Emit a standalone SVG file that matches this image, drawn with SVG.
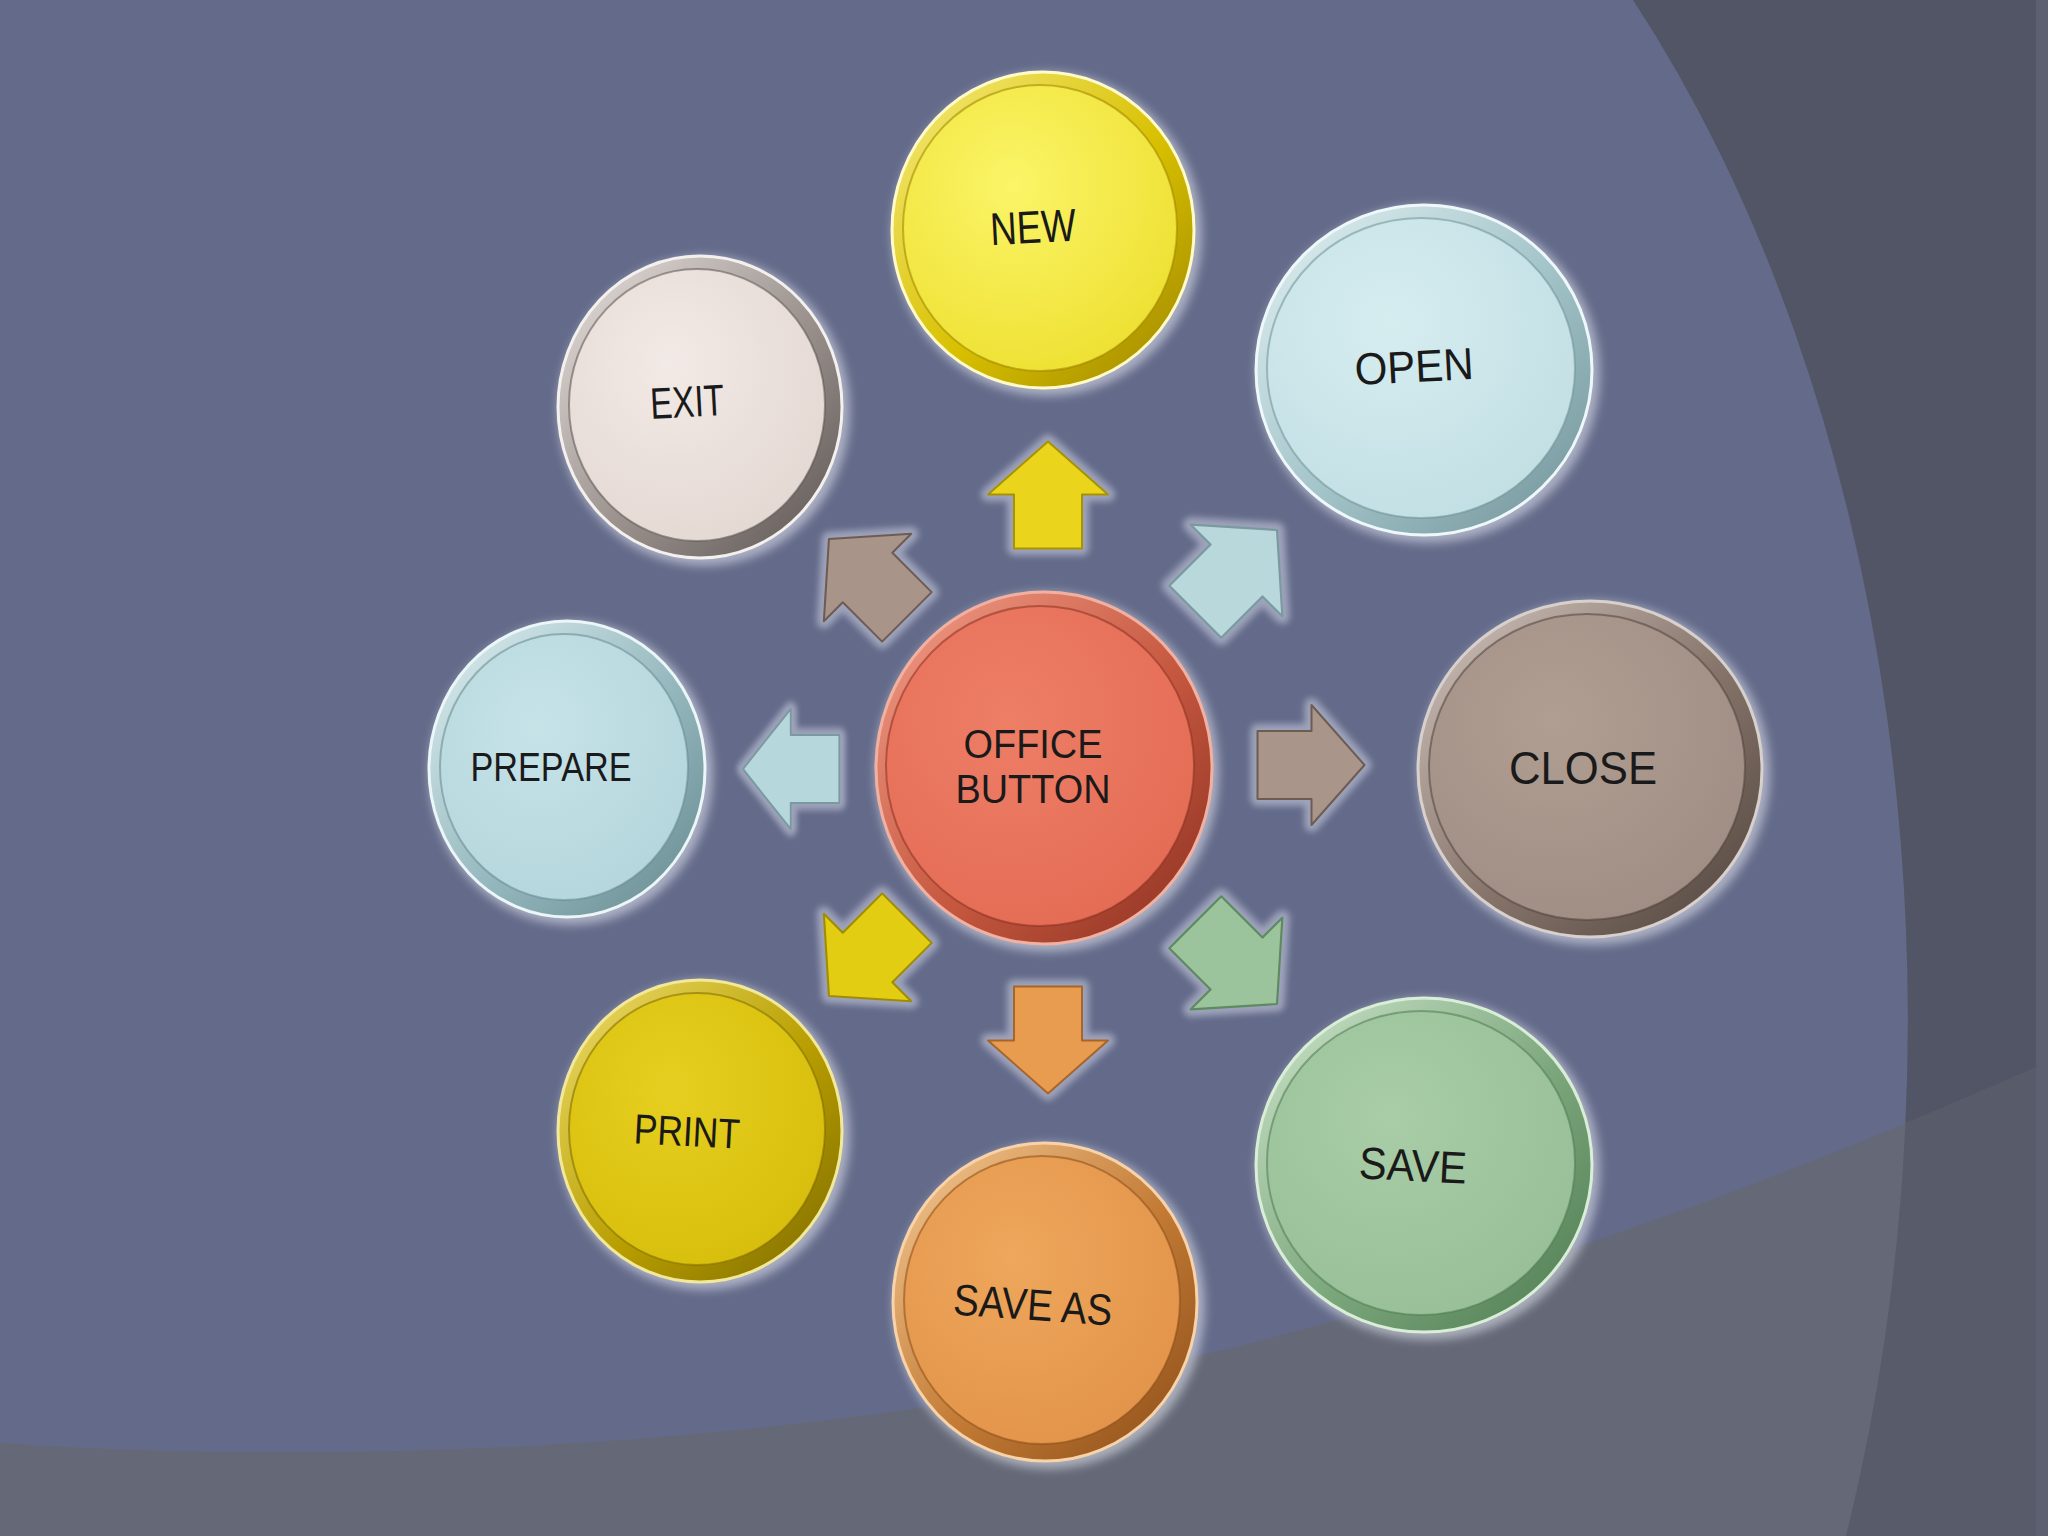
<svg xmlns="http://www.w3.org/2000/svg" width="2048" height="1536" viewBox="0 0 2048 1536">
<style>
.lbl{font-family:"Liberation Sans",Arial,sans-serif;fill:#1a1a1a;text-anchor:middle}
.halo{fill:#e4e7f2;opacity:.55}
.face{stroke-width:2;stroke-opacity:.55}
.ahalo{fill:none;stroke:#cdd1e2;stroke-width:14;stroke-linejoin:round;opacity:.55}
.arr{stroke-width:2;stroke-linejoin:round}
</style>
<defs>
<filter id="blur" x="-20%" y="-20%" width="140%" height="140%"><feGaussianBlur stdDeviation="5"/></filter>
<filter id="blurS" x="-30%" y="-30%" width="160%" height="160%"><feGaussianBlur stdDeviation="3"/></filter>
<clipPath id="bandClip"><path d="M0,1443 C400,1470 900,1440 1300,1330 C1600,1250 1850,1150 2048,1062 L2048,1536 L0,1536 Z"/></clipPath>
<path id="arrow" d="M-52,-34 H2 V-60 L55,0 L2,60 V34 H-52 Z"/>
<linearGradient id="rimNew" x1="0" y1="0" x2="1" y2="1"><stop offset="0" stop-color="#f6ec80"/><stop offset=".55" stop-color="#d8c000"/><stop offset="1" stop-color="#9c8400"/></linearGradient>
<radialGradient id="faceNew" cx=".4" cy=".35" r=".7"><stop offset="0" stop-color="#fbf568"/><stop offset="1" stop-color="#eee032"/></radialGradient>
<linearGradient id="rimOpen" x1="0" y1="0" x2="1" y2="1"><stop offset="0" stop-color="#e4f2f4"/><stop offset=".55" stop-color="#a0c2c7"/><stop offset="1" stop-color="#6f9197"/></linearGradient>
<radialGradient id="faceOpen" cx=".4" cy=".35" r=".7"><stop offset="0" stop-color="#d6edf0"/><stop offset="1" stop-color="#c2dfe4"/></radialGradient>
<linearGradient id="rimClose" x1="0" y1="0" x2="1" y2="1"><stop offset="0" stop-color="#d2c6bf"/><stop offset=".55" stop-color="#857369"/><stop offset="1" stop-color="#4f433c"/></linearGradient>
<radialGradient id="faceClose" cx=".4" cy=".35" r=".7"><stop offset="0" stop-color="#b09e93"/><stop offset="1" stop-color="#a08e84"/></radialGradient>
<linearGradient id="rimSave" x1="0" y1="0" x2="1" y2="1"><stop offset="0" stop-color="#cfe6cd"/><stop offset=".55" stop-color="#7ca77c"/><stop offset="1" stop-color="#4e7a50"/></linearGradient>
<radialGradient id="faceSave" cx=".4" cy=".35" r=".7"><stop offset="0" stop-color="#a8cda7"/><stop offset="1" stop-color="#98bf98"/></radialGradient>
<linearGradient id="rimSaveAs" x1="0" y1="0" x2="1" y2="1"><stop offset="0" stop-color="#f6cc98"/><stop offset=".55" stop-color="#c27a34"/><stop offset="1" stop-color="#8a4c18"/></linearGradient>
<radialGradient id="faceSaveAs" cx=".4" cy=".35" r=".7"><stop offset="0" stop-color="#eea75c"/><stop offset="1" stop-color="#e2944a"/></radialGradient>
<linearGradient id="rimPrint" x1="0" y1="0" x2="1" y2="1"><stop offset="0" stop-color="#f0e070"/><stop offset=".55" stop-color="#b89e00"/><stop offset="1" stop-color="#7c6a00"/></linearGradient>
<radialGradient id="facePrint" cx=".4" cy=".35" r=".7"><stop offset="0" stop-color="#e6cf20"/><stop offset="1" stop-color="#d8be0c"/></radialGradient>
<linearGradient id="rimPrep" x1="0" y1="0" x2="1" y2="1"><stop offset="0" stop-color="#e0f0f2"/><stop offset=".55" stop-color="#94b8be"/><stop offset="1" stop-color="#66888e"/></linearGradient>
<radialGradient id="facePrep" cx=".4" cy=".35" r=".7"><stop offset="0" stop-color="#c6e3e8"/><stop offset="1" stop-color="#b4d6dc"/></radialGradient>
<linearGradient id="rimExit" x1="0" y1="0" x2="1" y2="1"><stop offset="0" stop-color="#e8e2df"/><stop offset=".55" stop-color="#9a918d"/><stop offset="1" stop-color="#5a5350"/></linearGradient>
<radialGradient id="faceExit" cx=".4" cy=".35" r=".7"><stop offset="0" stop-color="#f2eae6"/><stop offset="1" stop-color="#e4d8d2"/></radialGradient>
<linearGradient id="rimOffice" x1="0" y1="0" x2="1" y2="1"><stop offset="0" stop-color="#f4a08c"/><stop offset=".55" stop-color="#c65840"/><stop offset="1" stop-color="#8a3020"/></linearGradient>
<radialGradient id="faceOffice" cx=".4" cy=".35" r=".7"><stop offset="0" stop-color="#ee7e66"/><stop offset="1" stop-color="#e46c55"/></radialGradient>
</defs>

<g id="background">
<rect width="2048" height="1536" fill="#646b8a"/>
<path d="M1633,0 A908,1423 0 0 1 1846,1536 L2048,1536 L2048,0 Z" fill="#525566"/>
<path d="M0,1443 C400,1470 900,1440 1300,1330 C1600,1250 1850,1150 2048,1062 L2048,1536 L0,1536 Z" fill="#656977"/>
<path clip-path="url(#bandClip)" d="M1633,0 A908,1423 0 0 1 1846,1536 L2048,1536 L2048,0 Z" fill="#585b69"/>
<rect x="2036" y="0" width="12" height="1536" fill="#5d6070"/>
</g>

<g id="connectors">
<g id="arrow-new" transform="translate(1048,496.5) rotate(-90)">
<use href="#arrow" class="ahalo" filter="url(#blurS)"/>
<use href="#arrow" class="arr" fill="#ead41c" stroke="#a89200"/>
</g>
<g id="arrow-open" transform="translate(1235,572) rotate(-45) scale(1.08)">
<use href="#arrow" class="ahalo" filter="url(#blurS)"/>
<use href="#arrow" class="arr" fill="#b8d8dc" stroke="#7a9aa0"/>
</g>
<g id="arrow-close" transform="translate(1309.5,765)">
<use href="#arrow" class="ahalo" filter="url(#blurS)"/>
<use href="#arrow" class="arr" fill="#a99589" stroke="#6e5c52"/>
</g>
<g id="arrow-save" transform="translate(1235,962) rotate(45) scale(1.08)">
<use href="#arrow" class="ahalo" filter="url(#blurS)"/>
<use href="#arrow" class="arr" fill="#9cc49c" stroke="#5e8a60"/>
</g>
<g id="arrow-saveas" transform="translate(1048,1038.5) rotate(90)">
<use href="#arrow" class="ahalo" filter="url(#blurS)"/>
<use href="#arrow" class="arr" fill="#e89c50" stroke="#a8652a"/>
</g>
<g id="arrow-print" transform="translate(869,956) rotate(135) scale(1.03)">
<use href="#arrow" class="ahalo" filter="url(#blurS)"/>
<use href="#arrow" class="arr" fill="#e3cd12" stroke="#a08c00"/>
</g>
<g id="arrow-prepare" transform="translate(792.5,769) rotate(180) scale(0.9,1)">
<use href="#arrow" class="ahalo" filter="url(#blurS)"/>
<use href="#arrow" class="arr" fill="#b6d8dc" stroke="#7a9aa0"/>
</g>
<g id="arrow-exit" transform="translate(869,579) rotate(-135) scale(1.03)">
<use href="#arrow" class="ahalo" filter="url(#blurS)"/>
<use href="#arrow" class="arr" fill="#a89489" stroke="#6e5c52"/>
</g>
</g>

<g id="node-office">
<ellipse class="halo" cx="1047" cy="772" rx="172" ry="180" filter="url(#blur)"/>
<ellipse cx="1044" cy="768" rx="168" ry="176" fill="url(#rimOffice)" stroke="#f2b0a0" stroke-width="3"/>
<ellipse class="face" cx="1040" cy="766" rx="154" ry="160" fill="url(#faceOffice)" stroke="#8a3020"/>
<text class="lbl" x="1033" y="758" font-size="40" textLength="139" lengthAdjust="spacingAndGlyphs" fill="#2e0f08">OFFICE</text>
<text class="lbl" x="1033" y="803" font-size="40" textLength="155" lengthAdjust="spacingAndGlyphs" fill="#2e0f08">BUTTON</text>
</g>

<g id="node-new">
<ellipse class="halo" cx="1047" cy="234" rx="155" ry="162" filter="url(#blur)"/>
<ellipse cx="1043" cy="230" rx="151" ry="158" fill="url(#rimNew)" stroke="#fffbc8" stroke-width="3"/>
<ellipse class="face" cx="1040" cy="228" rx="137" ry="143" fill="url(#faceNew)" stroke="#9c8400"/>
<text class="lbl" x="1033" y="243" font-size="46" textLength="86" lengthAdjust="spacingAndGlyphs" transform="rotate(-3 1033 226)">NEW</text>
</g>

<g id="node-open">
<ellipse class="halo" cx="1428" cy="374" rx="172" ry="169" filter="url(#blur)"/>
<ellipse cx="1424" cy="370" rx="168" ry="165" fill="url(#rimOpen)" stroke="#eef8fa" stroke-width="3"/>
<ellipse class="face" cx="1421" cy="368" rx="154" ry="150" fill="url(#faceOpen)" stroke="#6f9197"/>
<text class="lbl" x="1414" y="382" font-size="45" textLength="119" lengthAdjust="spacingAndGlyphs" transform="rotate(-3 1414 366)">OPEN</text>
</g>

<g id="node-close">
<ellipse class="halo" cx="1594" cy="773" rx="176" ry="172" filter="url(#blur)"/>
<ellipse cx="1590" cy="769" rx="172" ry="168" fill="url(#rimClose)" stroke="#d8d0cc" stroke-width="3"/>
<ellipse class="face" cx="1587" cy="767" rx="158" ry="153" fill="url(#faceClose)" stroke="#4f433c"/>
<text class="lbl" x="1583" y="784" font-size="46" textLength="148" lengthAdjust="spacingAndGlyphs">CLOSE</text>
</g>

<g id="node-save">
<ellipse class="halo" cx="1428" cy="1169" rx="172" ry="171" filter="url(#blur)"/>
<ellipse cx="1424" cy="1165" rx="168" ry="167" fill="url(#rimSave)" stroke="#d8eed6" stroke-width="3"/>
<ellipse class="face" cx="1421" cy="1163" rx="154" ry="152" fill="url(#faceSave)" stroke="#4e7a50"/>
<text class="lbl" x="1413" y="1181" font-size="45" textLength="108" lengthAdjust="spacingAndGlyphs" fill="#102a12" transform="rotate(3 1413 1165)">SAVE</text>
</g>

<g id="node-saveas">
<ellipse class="halo" cx="1049" cy="1306" rx="156" ry="163" filter="url(#blur)"/>
<ellipse cx="1045" cy="1302" rx="152" ry="159" fill="url(#rimSaveAs)" stroke="#f8d2a8" stroke-width="3"/>
<ellipse class="face" cx="1042" cy="1300" rx="138" ry="144" fill="url(#faceSaveAs)" stroke="#8a4c18"/>
<text class="lbl" x="1033" y="1320" font-size="44" textLength="159" lengthAdjust="spacingAndGlyphs" transform="rotate(4 1033 1304)">SAVE AS</text>
</g>

<g id="node-print">
<ellipse class="halo" cx="704" cy="1135" rx="146" ry="155" filter="url(#blur)"/>
<ellipse cx="700" cy="1131" rx="142" ry="151" fill="url(#rimPrint)" stroke="#f2e89a" stroke-width="3"/>
<ellipse class="face" cx="697" cy="1129" rx="128" ry="136" fill="url(#facePrint)" stroke="#7c6a00"/>
<text class="lbl" x="687" y="1146" font-size="42" textLength="106" lengthAdjust="spacingAndGlyphs" transform="rotate(3 687 1131)">PRINT</text>
</g>

<g id="node-prepare">
<ellipse class="halo" cx="571" cy="773" rx="142" ry="152" filter="url(#blur)"/>
<ellipse cx="567" cy="769" rx="138" ry="148" fill="url(#rimPrep)" stroke="#eaf6f8" stroke-width="3"/>
<ellipse class="face" cx="564" cy="767" rx="124" ry="133" fill="url(#facePrep)" stroke="#66888e"/>
<text class="lbl" x="551" y="781" font-size="40" textLength="161" lengthAdjust="spacingAndGlyphs">PREPARE</text>
</g>

<g id="node-exit">
<ellipse class="halo" cx="704" cy="411" rx="146" ry="155" filter="url(#blur)"/>
<ellipse cx="700" cy="407" rx="142" ry="151" fill="url(#rimExit)" stroke="#f4f0ee" stroke-width="3"/>
<ellipse class="face" cx="697" cy="405" rx="128" ry="136" fill="url(#faceExit)" stroke="#5a5350"/>
<text class="lbl" x="687" y="417" font-size="44" textLength="74" lengthAdjust="spacingAndGlyphs" transform="rotate(-3 687 401)">EXIT</text>
</g>
</svg>
